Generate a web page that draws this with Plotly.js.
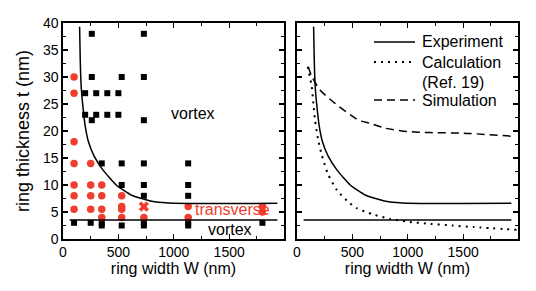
<!DOCTYPE html>
<html>
<head>
<meta charset="utf-8">
<script src="https://cdn.plot.ly/plotly-3.0.1.min.js"></script>
<style>html,body{margin:0;padding:0;background:#fff}#chart{width:536px;height:291px}</style>
</head>
<body>
<div id="chart"></div>
<script>
// Vortex state samples (black squares)
const vortexW = [260,730, 260,530,730, 200,300,400,500, 200,300,400,500, 260,730, 350,530,730,1130, 530,730,1130, 730,1130, 100,250,350,350,530,730,730,1130,1130,1800];
const vortexT = [38,38, 30,30,30, 27,27,27,27, 23,23,23,23, 22,22, 14,14,14,14, 10,10,10, 8,8, 3,3,3,2.5,2.5,3,2.5,3,2.5,3];
// Transverse state samples (red circles)
const transW = [100,100,100,100,100,100,100, 250,250,250,250, 350,350,350,350, 530,530,530,530, 730, 1130,1130, 1800,1800];
const transT = [30,27,18,14,10,8,5.5, 14,10,8,5.5, 10,8,5.5,4, 8,6,5.5,4, 4, 6,4, 6,5];
// Mixed sample (red X)
const crossW = [730];
const crossT = [6];
// Experimental phase boundary
const expW = [150,156,165,180,200,230,280,360,480,620,780,900,1000,1935];
const expT = [39.3,33,28,24.5,21,18,15.4,12.8,10,8.1,7.1,6.75,6.6,6.6];
// Lower boundary
const lowW = [60,1935];
const lowT = [3.5,3.5];
// Calculation (Ref. 19)
const calcW = [97,133,148,163,190,223,280,359,450,540,680,842,1000,1204,1400,1596,1988];
const calcT = [31.9,28.2,25.1,22,18.5,15.6,12,9.1,7.1,5.7,4.6,3.7,3.2,2.8,2.5,2.2,1.7];
// Simulation
const simW = [102,133,208,344,555,661,800,993,1200,1505,1960];
const simT = [31.9,30.1,27.6,25.1,22,21.4,20.5,19.9,19.7,19.6,19.0];
// Legend labels
const legendLabels = ['Experiment', 'Calculation', '(Ref. 19)', 'Simulation'];

const RED = '#ef3e2d';
const FONT = 'Liberation Sans, Arial, Helvetica, sans-serif';
const W = 536, H = 291;

const traces = [
  {x: vortexW, y: vortexT, type:'scatter', mode:'markers', xaxis:'x', yaxis:'y', name:'vortex',
   marker:{symbol:'square', size:6, color:'black'}},
  {x: transW, y: transT, type:'scatter', mode:'markers', xaxis:'x', yaxis:'y', name:'transverse',
   marker:{symbol:'circle', size:7.5, color:RED}},
  {x: crossW, y: crossT, type:'scatter', mode:'markers', xaxis:'x', yaxis:'y', name:'mixed',
   marker:{symbol:'x', size:9, color:RED}},
  {x: expW, y: expT, type:'scatter', mode:'lines', xaxis:'x', yaxis:'y', name:'Experiment',
   line:{color:'black', width:1.5, shape:'spline', smoothing:0.5}},
  {x: lowW, y: lowT, type:'scatter', mode:'lines', xaxis:'x', yaxis:'y', name:'Experiment (lower)',
   line:{color:'black', width:1.5}},
  // right panel
  {x: expW, y: expT, type:'scatter', mode:'lines', xaxis:'x2', yaxis:'y2', name:'Experiment',
   line:{color:'black', width:1.5, shape:'spline', smoothing:0.5}},
  {x: calcW, y: calcT, type:'scatter', mode:'lines', xaxis:'x2', yaxis:'y2', name:'Calculation (Ref. 19)',
   line:{color:'black', width:2, dash:'2px,5px', shape:'spline', smoothing:0.6}},
  {x: simW, y: simT, type:'scatter', mode:'lines', xaxis:'x2', yaxis:'y2', name:'Simulation',
   line:{color:'black', width:1.5, dash:'8px,5px', shape:'spline', smoothing:0.6}},
  {x: lowW, y: lowT, type:'scatter', mode:'lines', xaxis:'x2', yaxis:'y2', name:'Experiment (lower)',
   line:{color:'black', width:1.5}}
];

function xa(domain, anchor){
  return {domain: domain, anchor: anchor, range:[0,1995], tick0:0, dtick:500,
    showline:true, linecolor:'black', linewidth:1.6, mirror:'ticks',
    ticks:'inside', ticklen:5, tickwidth:1.2, tickcolor:'black',
    minor:{dtick:250, ticks:'inside', ticklen:3, tickwidth:1, tickcolor:'black'},
    showgrid:false, zeroline:false, automargin:false,
    tickfont:{size:14, color:'black'},
    title:{text:'ring width W (nm)', font:{size:16, color:'black'}, standoff:3}};
}
function ya(domain, anchor, labels){
  const a = {domain: domain, anchor: anchor, range:[0,40], tick0:0, dtick:5,
    showline:true, linecolor:'black', linewidth:1.6, mirror:'ticks',
    ticks:'inside', ticklen:5, tickwidth:1.2, tickcolor:'black',
    minor:{dtick:2.5, ticks:'inside', ticklen:3, tickwidth:1, tickcolor:'black'},
    showgrid:false, zeroline:false, automargin:false, showticklabels:labels,
    tickfont:{size:14, color:'black'}};
  if (labels) a.title = {text:'ring thickness t (nm)', font:{size:18, color:'black'}, standoff:8};
  return a;
}

// manual legend (paper coordinates)
const legX0 = 374/W, legX1 = 415/W, legTextX = 420/W;
const legRows = [42, 62, 82, 100].map(p => 1 - p/H);
const legendShapes = [
  {type:'line', xref:'paper', yref:'paper', x0:legX0, x1:legX1, y0:legRows[0], y1:legRows[0], line:{color:'black', width:1.5}},
  {type:'line', xref:'paper', yref:'paper', x0:legX0, x1:legX1, y0:legRows[1], y1:legRows[1], line:{color:'black', width:2, dash:'2px,5px'}},
  {type:'line', xref:'paper', yref:'paper', x0:legX0, x1:legX1, y0:legRows[3], y1:legRows[3], line:{color:'black', width:1.5, dash:'8px,5px'}}
];
const legendAnn = legendLabels.map((t, i) => ({xref:'paper', yref:'paper', x:legTextX, y:legRows[i],
  xanchor:'left', yanchor:'middle', text:t, showarrow:false, font:{size:16, color:'black'}}));

const layout = {
  width:W, height:H,
  margin:{l:0, r:0, t:0, b:0},
  paper_bgcolor:'white', plot_bgcolor:'white',
  font:{family:FONT, color:'black'},
  xaxis: xa([0.1175,0.5299], 'y'),
  yaxis: ya([0.1787,0.9210], 'x', true),
  xaxis2: xa([0.5541,0.9664], 'y2'),
  yaxis2: ya([0.1787,0.9210], 'x2', false),
  showlegend:false,
  shapes: legendShapes,
  annotations:[
    {xref:'x', yref:'y', x:1177, y:23.3, text:'vortex', showarrow:false, font:{size:16, color:'black'}},
    {xref:'x', yref:'y', x:1529, y:5.4, text:'transverse', showarrow:false, font:{size:16, color:RED}},
    {xref:'x', yref:'y', x:1511, y:1.8, text:'vortex', showarrow:false, font:{size:16, color:'black'}}
  ].concat(legendAnn)
};

Plotly.newPlot('chart', traces, layout, {staticPlot:true, displayModeBar:false});
</script>
</body>
</html>
